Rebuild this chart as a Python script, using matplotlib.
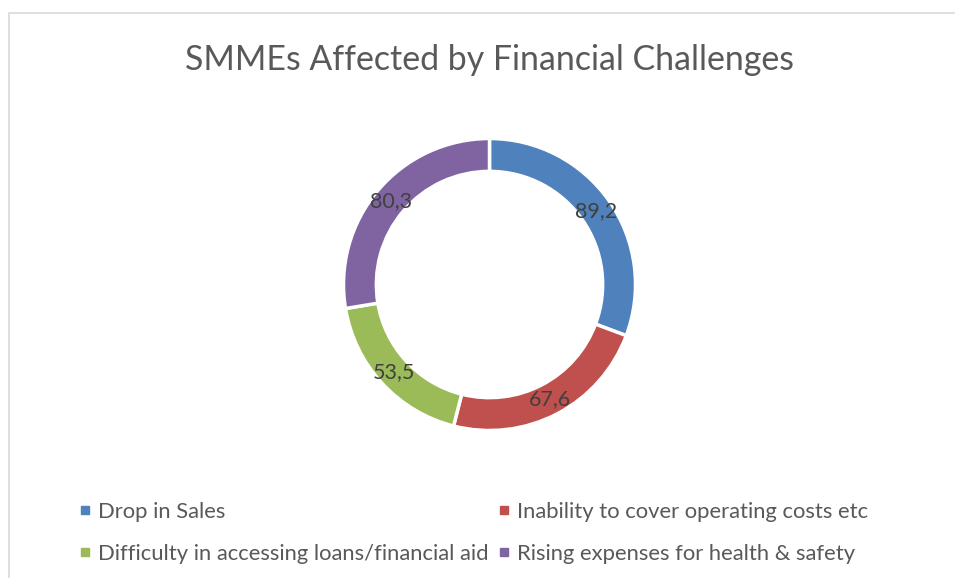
import numpy as np
import matplotlib.pyplot as plt
from matplotlib.lines import Line2D
from matplotlib.patches import Rectangle

plt.rcParams['font.family'] = ['Lato', 'DejaVu Sans']

categories = ['Drop in Sales', 'Inability to cover operating costs etc',
              'Difficulty in accessing loans/financial aid',
              'Rising expenses for health & safety']
values = [89.2, 67.6, 53.5, 80.3]
colors = ['#4F81BD', '#C0504D', '#9BBB59', '#8064A2']
title = 'SMMEs Affected by Financial Challenges'

W, H = 955, 578
fig = plt.figure(figsize=(W / 100, H / 100), dpi=100)

# light chart-area border (only left/top visible in the crop)
fig.patches.append(Rectangle((9 / W, -0.1), 1.2, (H - 13) / H + 0.1,
                             transform=fig.transFigure, fill=False,
                             edgecolor='#d9d9d9', linewidth=1.2))

cx, cy, r = 489.5, 284.5, 146
ax = fig.add_axes([(cx - r) / W, (H - cy - r) / H, 2 * r / W, 2 * r / H])
ax.pie(values, colors=colors, startangle=90, counterclock=False, radius=1.0,
       wedgeprops=dict(width=0.225, edgecolor='white', linewidth=2.5))
ax.set_xlim(-1, 1)
ax.set_ylim(-1, 1)
ax.axis('off')

total = sum(values)
start = 90.0
for v in values:
    ang = np.deg2rad(start - v / total * 360 / 2)
    ax.text(0.887 * np.cos(ang), 0.887 * np.sin(ang), ('%.1f' % v).replace('.', ','),
            ha='center', va='center', fontsize=15.5, color='#404040')
    start -= v / total * 360

fig.text(cx / W, 1 - 60 / H, title, ha='center', va='center', fontsize=24.4, color='#595959')

order = [0, 2, 1, 3]
handles = [Line2D([], [], linestyle='none', marker='s', markersize=6,
                  color=colors[i]) for i in order]
labels = [categories[i] for i in order]
fig.legend(handles, labels, ncol=2, loc='upper left', bbox_to_anchor=(78 / W, 1 - 502 / H),
           frameon=False, fontsize=15.8, labelcolor='#595959', handlelength=0.6,
           handletextpad=0.3, labelspacing=0.98, columnspacing=0.42,
           borderpad=0, borderaxespad=0)

fig.savefig('out.png', dpi=100)
